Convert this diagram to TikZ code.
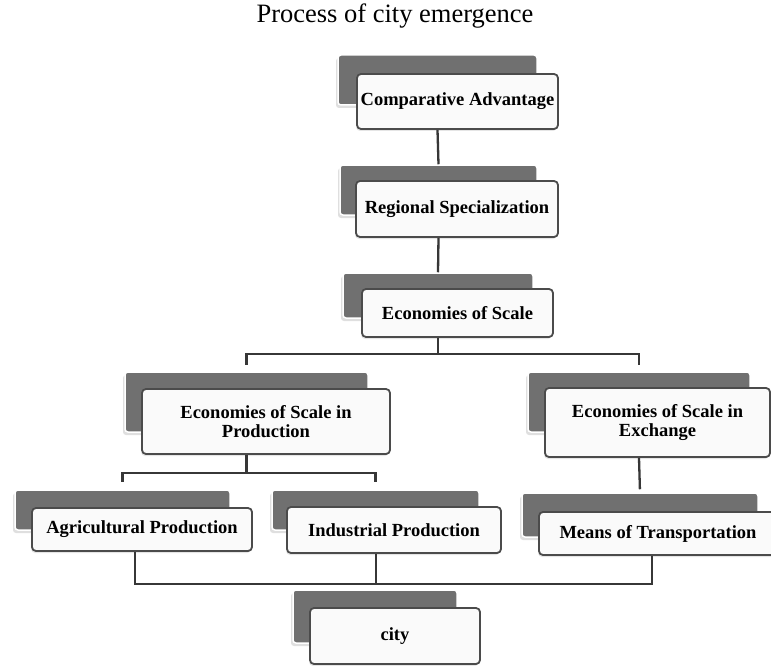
\documentclass[tikz,border=0pt]{standalone}
\usepackage{fontspec}
\setmainfont{Liberation Serif}
\usepackage{tikz}
\usetikzlibrary{shadows}
\definecolor{backgray}{RGB}{112,112,112}
\definecolor{rimgray}{RGB}{75,75,75}
\definecolor{linegray}{RGB}{55,55,55}

\begin{document}
\begin{tikzpicture}[x=1pt, y=-1pt,
    backbox/.style={rectangle, rounded corners=3pt, fill=backgray, draw=white, line width=1.5pt,
        drop shadow={shadow xshift=-2pt, shadow yshift=-3pt, opacity=0.25}},
    stagebox/.style={rectangle, rounded corners=4pt, fill=gray!4, draw=rimgray, line width=1.8pt,
        align=center, inner sep=0pt, font=\fontsize{18.5}{19}\selectfont\bfseries,
        drop shadow={shadow xshift=-1pt, shadow yshift=-2pt, opacity=0.2}},
    conn/.style={draw=linegray, line width=2.3pt}]
        \useasboundingbox[fill=white] (0,0) rectangle (771,666);

        % Title
        \node[font=\fontsize{26.5}{30}\selectfont] (title) at (395,16) {Process of city emergence};

        % Back boxes
        \node[backbox, minimum width=199pt, minimum height=50pt] (advB) at (437.5,80) {};
        \node[backbox, minimum width=197pt, minimum height=50pt] (regB) at (438.5,190) {};
        \node[backbox, minimum width=190pt, minimum height=45pt] (eosB) at (438,295.5) {};
        \node[backbox, minimum width=243pt, minimum height=60pt] (prodB) at (246.5,402) {};
        \node[backbox, minimum width=222pt, minimum height=60pt] (exchB) at (639,402) {};
        \node[backbox, minimum width=215pt, minimum height=40pt] (agrB) at (122.5,510) {};
        \node[backbox, minimum width=207pt, minimum height=40pt] (indB) at (375.5,510) {};
        \node[backbox, minimum width=236pt, minimum height=44pt] (meansB) at (640,515) {};
        \node[backbox, minimum width=164pt, minimum height=53pt] (cityB) at (375,616.5) {};

        % Front boxes
        \node[stagebox, minimum width=201pt, minimum height=55pt] (adv) at (457.5,101.5) {Comparative Advantage};
        \node[stagebox, minimum width=202pt, minimum height=56pt] (reg) at (457,209) {Regional Specialization};
        \node[stagebox, minimum width=191pt, minimum height=48pt] (eos) at (457.5,313) {Economies of Scale};
        \node[stagebox, minimum width=248pt, minimum height=65pt] (prod) at (266,421.5) {Economies of Scale in\\Production};
        \node[stagebox, minimum width=225pt, minimum height=69pt] (exch) at (657.5,422.5) {Economies of Scale in\\Exchange};
        \node[stagebox, minimum width=220pt, minimum height=43pt] (agr) at (142,529.5) {Agricultural Production};
        \node[stagebox, minimum width=214pt, minimum height=46pt] (ind) at (394,530) {Industrial Production};
        \node[stagebox, minimum width=238pt, minimum height=43pt] (means) at (658,533.5) {Means of Transportation};
        \node[stagebox, minimum width=170pt, minimum height=56pt] (city) at (395,636) {city};

        % Connectors
        \draw[conn] (adv.south -| advB.south) -- (regB.north);
        \draw[conn] (reg.south -| regB.south) -- (eosB.north);
        \draw[conn] (eos.south -| eosB.south) -- ++(0,16) coordinate (eosJ);
        \draw[conn, shorten >=6pt] (eosJ) -| (prodB.north);
        \draw[conn, shorten >=6pt] (eosJ) -| (exchB.north);
        \draw[conn] (prod.south -| prodB.south) -- ++(0,18) coordinate (prodJ);
        \draw[conn, shorten >=7pt] (prodJ) -| (agrB.north);
        \draw[conn, shorten >=7pt] (prodJ) -| (indB.north);
        \draw[conn, shorten >=3pt] (exch.south -| exchB.south) -- (meansB.north);
        \draw[conn] ([xshift=-7pt]agr.south) -- ++(0,32) coordinate (busL) -| ([xshift=-6pt]means.south);
        \draw[conn] ([xshift=-18pt]ind.south) -- ([xshift=-18pt]ind.south |- busL);
    \end{tikzpicture}
\end{document}
